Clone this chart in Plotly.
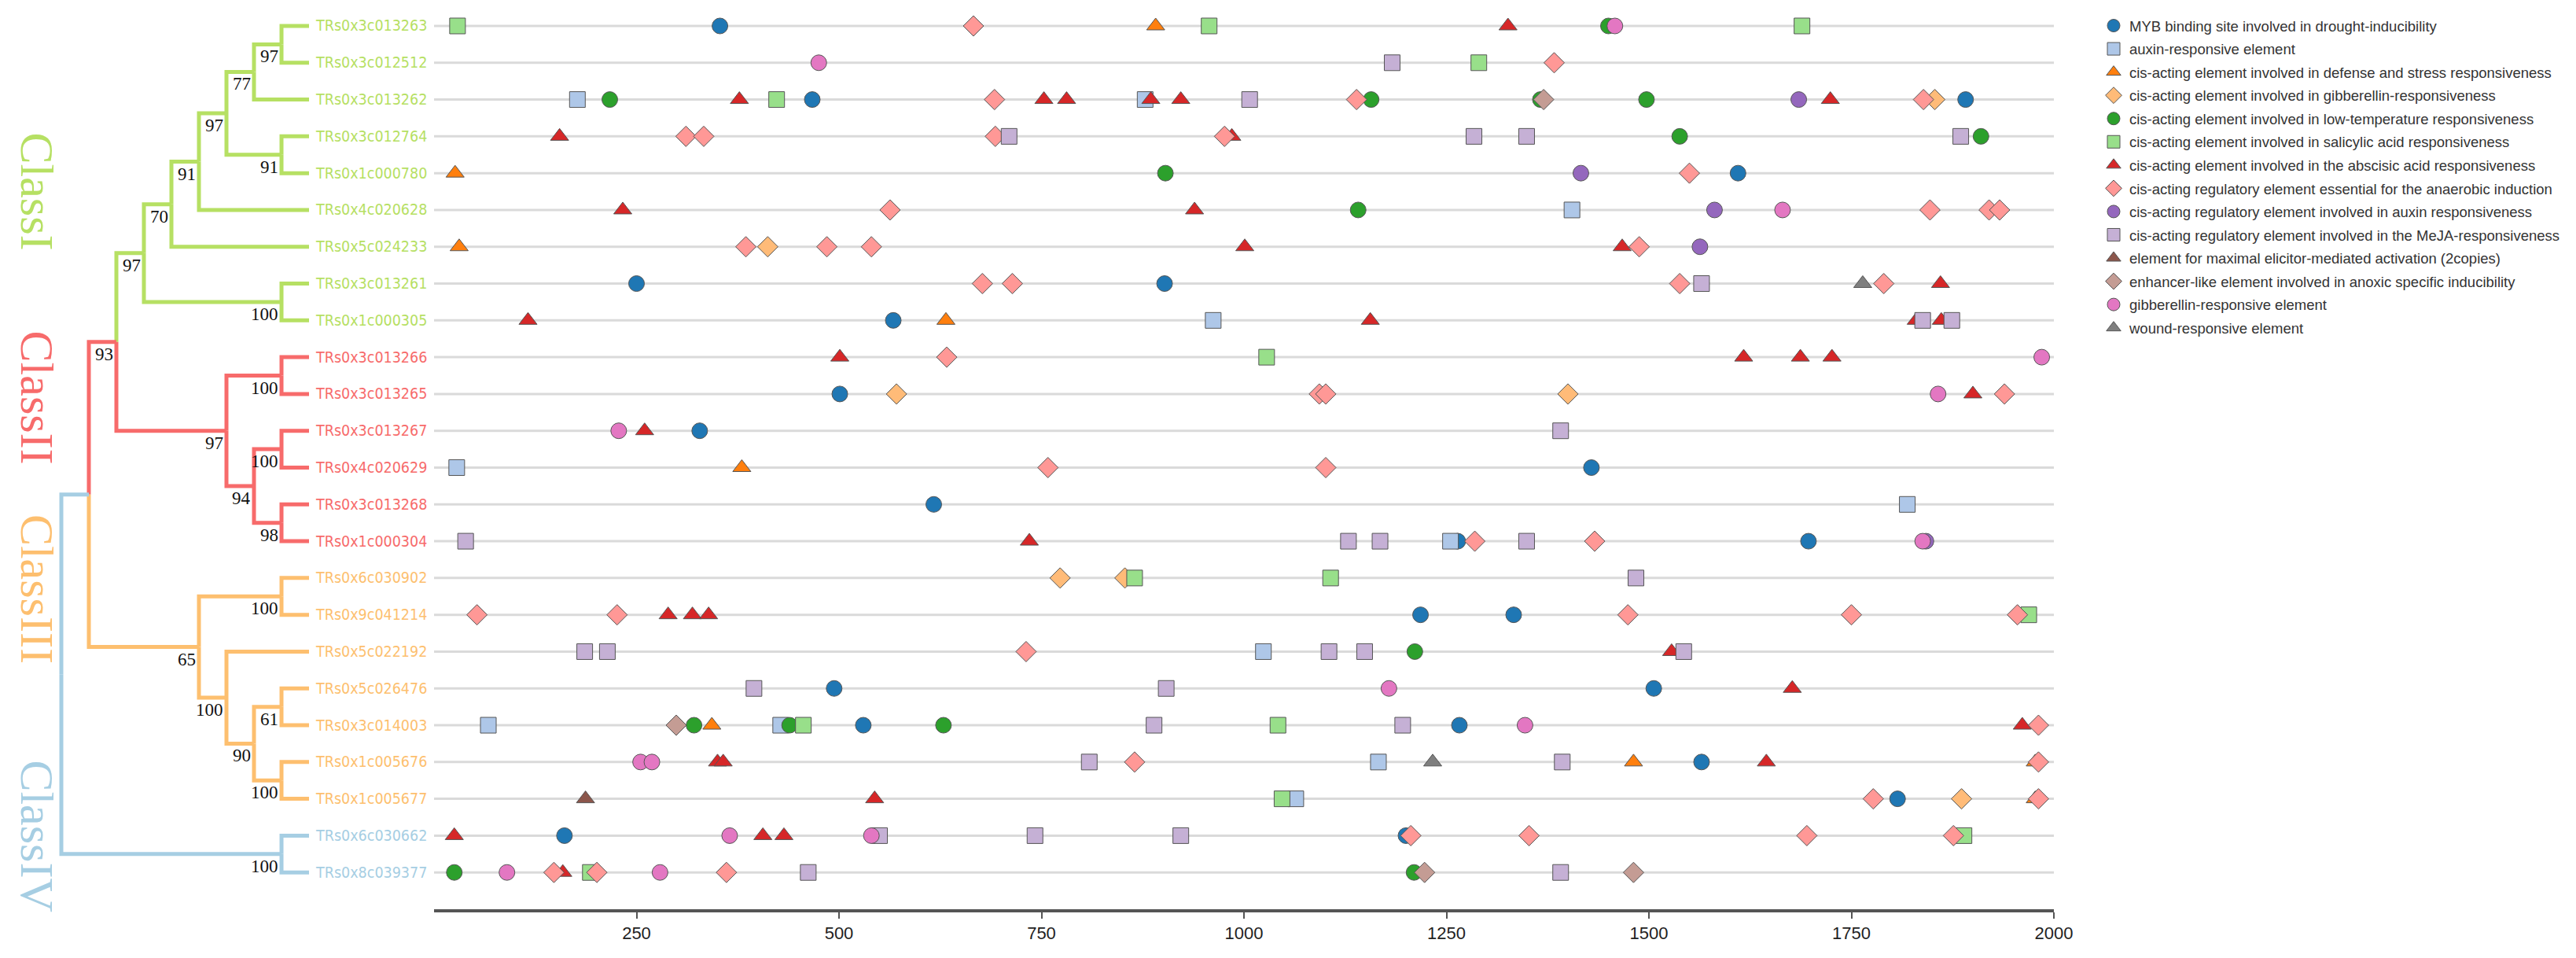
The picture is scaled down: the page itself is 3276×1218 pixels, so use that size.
import plotly.graph_objects as go

# genes, top to bottom
genes = ["TRs0x3c013263", "TRs0x3c012512", "TRs0x3c013262", "TRs0x3c012764",
         "TRs0x1c000780", "TRs0x4c020628", "TRs0x5c024233", "TRs0x3c013261",
         "TRs0x1c000305", "TRs0x3c013266", "TRs0x3c013265", "TRs0x3c013267",
         "TRs0x4c020629", "TRs0x3c013268", "TRs0x1c000304", "TRs0x6c030902",
         "TRs0x9c041214", "TRs0x5c022192", "TRs0x5c026476", "TRs0x3c014003",
         "TRs0x1c005676", "TRs0x1c005677", "TRs0x6c030662", "TRs0x8c039377"]
gene_class = [0] * 9 + [1] * 6 + [2] * 7 + [3] * 2

class_names = ["ClassI", "ClassII", "ClassIII", "ClassIV"]
class_colors = ["#b6e063", "#f76b6b", "#fdbf6f", "#a6cee3"]
class_label_rows = [4.5, 10.1, 15.3, 22.0]

# tree: (bootstrap, level, colour class, children) ; ints are leaves (row index)
tree = (None, 0, 3, [
    (None, 1, 3, [
        ("93", 2, 1, [
            ("97", 3, 0, [
                ("70", 4, 0, [
                    ("91", 5, 0, [
                        ("97", 6, 0, [
                            ("77", 7, 0, [("97", 8, 0, [0, 1]), 2]),
                            ("91", 8, 0, [3, 4])]),
                        5]),
                    6]),
                ("100", 8, 0, [7, 8])]),
            ("97", 6, 1, [
                ("100", 8, 1, [9, 10]),
                ("94", 7, 1, [("100", 8, 1, [11, 12]), ("98", 8, 1, [13, 14])])])]),
        ("65", 5, 2, [
            ("100", 8, 2, [15, 16]),
            ("100", 6, 2, [17, ("90", 7, 2, [("61", 8, 2, [18, 19]), ("100", 8, 2, [20, 21])])])])]),
    ("100", 8, 3, [22, 23])])

# promoter elements: (row, position)
myb = [(0, 353), (2, 467), (2, 1891), (4, 1610), (7, 250), (7, 902), (8, 567), (10, 501),
       (11, 328), (12, 1429), (13, 617), (14, 1264), (14, 1697), (16, 1218), (16, 1333),
       (18, 494), (18, 1506), (19, 530), (19, 1266), (20, 1565), (21, 1807), (22, 161), (22, 1200)]
auxin_resp = [(2, 177), (2, 878), (5, 1405), (8, 962), (12, 28), (13, 1819), (14, 1255),
              (17, 1024), (19, 67), (19, 428), (20, 1166), (21, 1064)]
defense = [(0, 891), (4, 26), (6, 31), (8, 632), (12, 380), (19, 343), (20, 1481), (20, 1977), (21, 1977)]
ga_resp = [(2, 1853), (6, 412), (10, 571), (10, 1400), (15, 773), (15, 853), (21, 1886)]
low_temp = [(0, 1450), (2, 217), (2, 1157), (2, 1366), (2, 1497), (3, 1538), (3, 1910), (4, 903),
            (5, 1141), (17, 1211), (19, 321), (19, 439), (19, 629), (23, 25), (23, 1210)]
salicylic = [(0, 29), (0, 957), (0, 1689), (1, 1290), (2, 423), (9, 1028), (15, 865), (15, 1107),
             (16, 1969), (19, 456), (19, 1042), (21, 1047), (22, 1889), (23, 193)]
abscisic = [(0, 1326), (2, 377), (2, 753), (2, 781), (2, 885), (2, 922), (2, 1724), (3, 155), (3, 985),
            (5, 233), (5, 939), (6, 1001), (6, 1467), (7, 1860), (8, 116), (8, 1156), (8, 1830),
            (8, 1861), (9, 501), (9, 1617), (9, 1687), (9, 1726), (10, 1900), (11, 260), (14, 735),
            (16, 289), (16, 319), (16, 339), (17, 1528), (18, 1677), (19, 1961), (20, 350), (20, 357),
            (20, 1645), (21, 544), (22, 25), (22, 406), (22, 432), (23, 159)]
anaerobic = [(0, 666), (1, 1383), (2, 692), (2, 1139), (2, 1839), (3, 311), (3, 333), (3, 693),
             (3, 976), (4, 1550), (5, 563), (5, 1847), (5, 1920), (5, 1933), (6, 385), (6, 485),
             (6, 540), (6, 1488), (7, 677), (7, 714), (7, 1538), (7, 1790), (9, 633), (10, 1093),
             (10, 1101), (10, 1939), (12, 758), (12, 1101), (14, 1285), (14, 1433), (16, 53), (16, 226),
             (16, 1474), (16, 1750), (16, 1955), (17, 731), (19, 1981), (20, 865), (20, 1981),
             (21, 1777), (21, 1981), (22, 1206), (22, 1352), (22, 1695), (22, 1876), (23, 148),
             (23, 201), (23, 361)]
auxin_reg = [(2, 1685), (4, 1416), (5, 1581), (6, 1563), (14, 1842)]
meja = [(1, 1183), (2, 1007), (3, 710), (3, 1284), (3, 1349), (3, 1885), (7, 1565), (8, 1838),
        (8, 1874), (11, 1391), (14, 39), (14, 1129), (14, 1168), (14, 1349), (15, 1484), (17, 186),
        (17, 214), (17, 1105), (17, 1149), (17, 1543), (18, 395), (18, 904), (19, 889), (19, 1196),
        (20, 809), (20, 1393), (22, 550), (22, 742), (22, 922), (23, 462), (23, 1391)]
elicitor = [(21, 187)]
anoxic = [(2, 1370), (19, 299), (23, 1223), (23, 1481)]
ga_element = [(0, 1458), (1, 475), (5, 1665), (9, 1985), (10, 1857), (11, 228), (14, 1838),
              (18, 1179), (19, 1347), (20, 255), (20, 269), (22, 365), (22, 540), (23, 90), (23, 279)]
auxin_part = []
wound = [(7, 1764), (20, 1233)]

elements = [
    ("MYB binding site involved in drought-inducibility", myb, "circle", "#1f77b4"),
    ("auxin-responsive element", auxin_resp, "square", "#aec7e8"),
    ("cis-acting element involved in defense and stress responsiveness", defense, "triangle-up", "#ff7f0e"),
    ("cis-acting element involved in gibberellin-responsiveness", ga_resp, "diamond", "#ffbb78"),
    ("cis-acting element involved in low-temperature responsiveness", low_temp, "circle", "#2ca02c"),
    ("cis-acting element involved in salicylic acid responsiveness", salicylic, "square", "#98df8a"),
    ("cis-acting element involved in the abscisic acid responsiveness", abscisic, "triangle-up", "#d62728"),
    ("cis-acting regulatory element essential for the anaerobic induction", anaerobic, "diamond", "#ff9896"),
    ("cis-acting regulatory element involved in auxin responsiveness", auxin_reg, "circle", "#9467bd"),
    ("cis-acting regulatory element involved in the MeJA-responsiveness", meja, "square", "#c5b0d5"),
    ("element for maximal elicitor-mediated activation (2copies)", elicitor, "triangle-up", "#8c564b"),
    ("enhancer-like element involved in anoxic specific inducibility", anoxic, "diamond", "#c49c94"),
    ("gibberellin-responsive element", ga_element, "circle", "#e377c2"),
    ("part of an auxin-responsive element", auxin_part, "square", "#f7b6d2"),
    ("wound-responsive element", wound, "triangle-up", "#7f7f7f"),
]

W, H = 3276, 1218
TREE_W = 552          # px width of tree panel
PLOT_R = 2612         # right edge of plot area
LEAF_LEVEL = 9

def lvl_x(level):
    return 78 + 35 * level

fig = go.Figure()

# row guide lines
gx, gy = [], []
for i in range(len(genes)):
    gx += [0, 2000, None]
    gy += [i, i, None]
fig.add_trace(go.Scatter(x=gx, y=gy, mode="lines", line=dict(color="#dadada", width=3),
                         showlegend=False, hoverinfo="skip"))

# tree
segs = {c: ([], []) for c in range(4)}
boots = []

def layout_node(node):
    if isinstance(node, int):
        return float(node), lvl_x(LEAF_LEVEL), gene_class[node]
    boot, level, col, children = node
    xs = lvl_x(level)
    kids = [layout_node(ch) for ch in children]
    yn = (kids[0][0] + kids[-1][0]) / 2
    for yc, xc, cc in kids:
        sx, sy = segs[cc]
        sx += [xs, xs, xc, None]
        sy += [yn, yc, yc, None]
    if boot:
        boots.append((xs, yn, boot))
    return yn, xs, col

layout_node(tree)
for c in range(4):
    fig.add_trace(go.Scatter(x=segs[c][0], y=segs[c][1], xaxis="x2", yaxis="y", mode="lines",
                             line=dict(color=class_colors[c], width=5), showlegend=False,
                             hoverinfo="skip"))

for name, pts, sym, col in elements:
    fig.add_trace(go.Scatter(
        x=[p for r, p in pts], y=[r for r, p in pts], mode="markers", name=name,
        legendgroup=name,
        marker=dict(symbol=sym, size=20, color=col, line=dict(color="#555555", width=1)),
        cliponaxis=False))

annotations = []
for i, g in enumerate(genes):
    annotations.append(dict(x=lvl_x(LEAF_LEVEL) + 6, y=i, xref="x2", yref="y", text=g,
                            showarrow=False, xanchor="left", yanchor="middle",
                            font=dict(family="Liberation Sans Narrow, DejaVu Sans Condensed, Arial Narrow, sans-serif",
                                      size=19.5, color=class_colors[gene_class[i]])))
for xs, yn, b in boots:
    annotations.append(dict(x=xs - 2, y=yn, xref="x2", yref="y", text=b, showarrow=False,
                            xanchor="right", yanchor="top", yshift=-1,
                            font=dict(family="Liberation Serif, Times New Roman, serif", size=23,
                                      color="#111111")))
for c in range(4):
    annotations.append(dict(x=47, y=class_label_rows[c], xref="x2", yref="y", text=class_names[c],
                            showarrow=False, textangle=90, xanchor="center", yanchor="middle",
                            font=dict(family="Liberation Serif, Times New Roman, serif", size=60,
                                      color=class_colors[c])))

fig.update_layout(
    width=W, height=H,
    margin=dict(l=0, r=W - PLOT_R, t=0, b=62),
    paper_bgcolor="white", plot_bgcolor="white",
    xaxis=dict(domain=[TREE_W / PLOT_R, 1], range=[0, 2000], showgrid=False, zeroline=False,
               showline=True, linecolor="#555555", linewidth=4, ticks="outside", ticklen=8,
               tickwidth=2, tickcolor="#555555", tickvals=[250, 500, 750, 1000, 1250, 1500, 1750, 2000],
               tickfont=dict(family="Liberation Sans, Arial, sans-serif", size=22, color="#222222")),
    xaxis2=dict(domain=[0, TREE_W / PLOT_R], range=[0, TREE_W], visible=False, anchor="y"),
    yaxis=dict(range=[24.0, -0.705], visible=False),
    annotations=annotations,
    legend=dict(xref="container", yref="container", x=2668 / W, y=1 - 14 / H,
                xanchor="left", yanchor="top", tracegroupgap=2.5, bgcolor="rgba(0,0,0,0)",
                font=dict(family="Liberation Sans, Arial, sans-serif", size=18.5, color="#333333")),
)

# drop the default page margin so the figure fills the window exactly
fig.write_html("out.html", config={"displayModeBar": False},
               post_script="document.body.style.margin='0';document.body.style.overflow='hidden';")
